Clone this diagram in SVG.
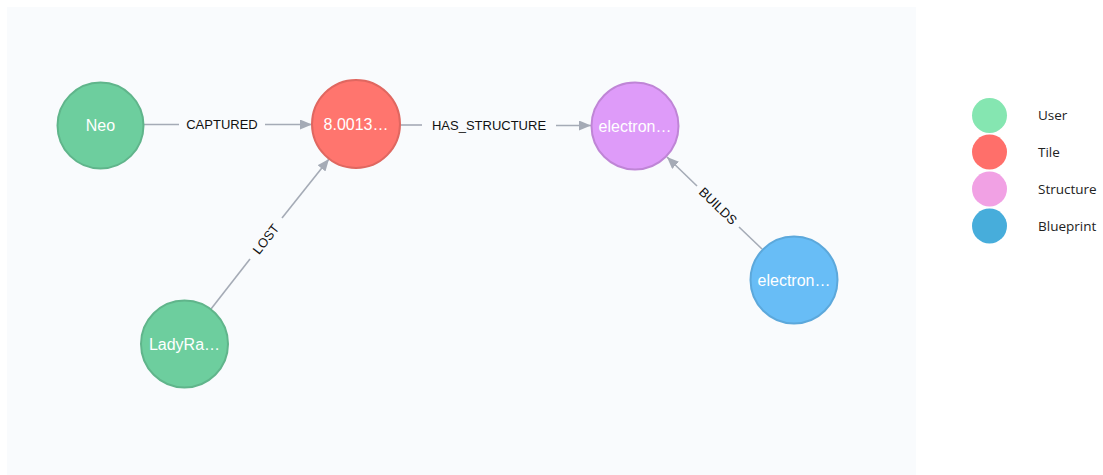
<svg xmlns="http://www.w3.org/2000/svg" width="1103" height="475" viewBox="0 0 1103 475">
  <defs>
    <marker id="arrow" viewBox="0 0 12 10" refX="12" refY="5" markerWidth="12" markerHeight="10" markerUnits="userSpaceOnUse" orient="auto">
      <path d="M0,0 L12,5 L0,10 Z" fill="#a5abb6"/>
    </marker>
    <style>
      .edge { stroke: #a5abb6; stroke-width: 1.6; fill: none; }
      .elabel { font-family: "Liberation Sans", Arial, sans-serif; font-size: 13px; fill: #111; text-anchor: middle; }
      .caption { font-family: "Liberation Sans", Arial, sans-serif; font-size: 16px; fill: #ffffff; text-anchor: middle; }
      .legend { font-family: "Open Sans", "Liberation Sans", sans-serif; font-size: 13.5px; fill: #222; }
      .user { fill: #6dce9e; stroke: #60b58b; stroke-width: 2; }
      .tile { fill: #ff756e; stroke: #e06760; stroke-width: 2; }
      .structure { fill: #de9bf9; stroke: #bf85d6; stroke-width: 2; }
      .blueprint { fill: #68bdf6; stroke: #5ca8db; stroke-width: 2; }
    </style>
  </defs>

  <!-- canvas panel -->
  <rect x="7" y="7" width="909" height="468" fill="#f9fbfd"/>

  <!-- relationships -->
  <g id="connectors">
    <g id="edge-captured">
      <line class="edge" x1="144" y1="124.5" x2="179" y2="124.5"/>
      <line class="edge" x1="265" y1="124.5" x2="312" y2="124.5" marker-end="url(#arrow)"/>
      <text class="elabel" x="222" y="129">CAPTURED</text>
    </g>
    <g id="edge-has-structure">
      <line class="edge" x1="400" y1="125" x2="422" y2="125"/>
      <line class="edge" x1="556" y1="125.5" x2="591" y2="125.5" marker-end="url(#arrow)"/>
      <text class="elabel" x="489" y="130">HAS_STRUCTURE</text>
    </g>
    <g id="edge-lost">
      <line class="edge" x1="211" y1="309" x2="250" y2="259"/>
      <line class="edge" x1="282" y1="218" x2="329" y2="159" marker-end="url(#arrow)"/>
      <text class="elabel" transform="translate(266,239) rotate(-52)" y="4.5">LOST</text>
    </g>
    <g id="edge-builds">
      <line class="edge" x1="762" y1="249" x2="739" y2="227"/>
      <line class="edge" x1="697" y1="186" x2="667" y2="157" marker-end="url(#arrow)"/>
      <text class="elabel" transform="translate(718,206) rotate(44)" y="4.5">BUILDS</text>
    </g>
  </g>

  <!-- nodes -->
  <g id="node-neo">
    <circle class="user" cx="100.5" cy="125.5" r="43"/>
    <text class="caption" x="100.5" y="131">Neo</text>
  </g>
  <g id="node-tile">
    <circle class="tile" cx="356" cy="124" r="44"/>
    <text class="caption" x="356" y="130">8.0013…</text>
  </g>
  <g id="node-structure">
    <circle class="structure" cx="635" cy="126" r="43.5"/>
    <text class="caption" x="635" y="132">electron…</text>
  </g>
  <g id="node-ladyra">
    <circle class="user" cx="184.5" cy="344" r="43.5"/>
    <text class="caption" x="184.5" y="350">LadyRa…</text>
  </g>
  <g id="node-blueprint">
    <circle class="blueprint" cx="794" cy="280" r="43.5"/>
    <text class="caption" x="794" y="286">electron…</text>
  </g>

  <!-- legend -->
  <g id="legend">
    <circle cx="989.5" cy="115.5" r="17.5" fill="#85e6b1"/>
    <text class="legend" x="1038" y="120">User</text>
    <circle cx="989.5" cy="152" r="17.5" fill="#ff6f6a"/>
    <text class="legend" x="1038" y="157">Tile</text>
    <circle cx="989.5" cy="189" r="17.5" fill="#f1a1e4"/>
    <text class="legend" x="1038" y="194">Structure</text>
    <circle cx="989.5" cy="226" r="17.5" fill="#47addb"/>
    <text class="legend" x="1038" y="231">Blueprint</text>
  </g>
</svg>
